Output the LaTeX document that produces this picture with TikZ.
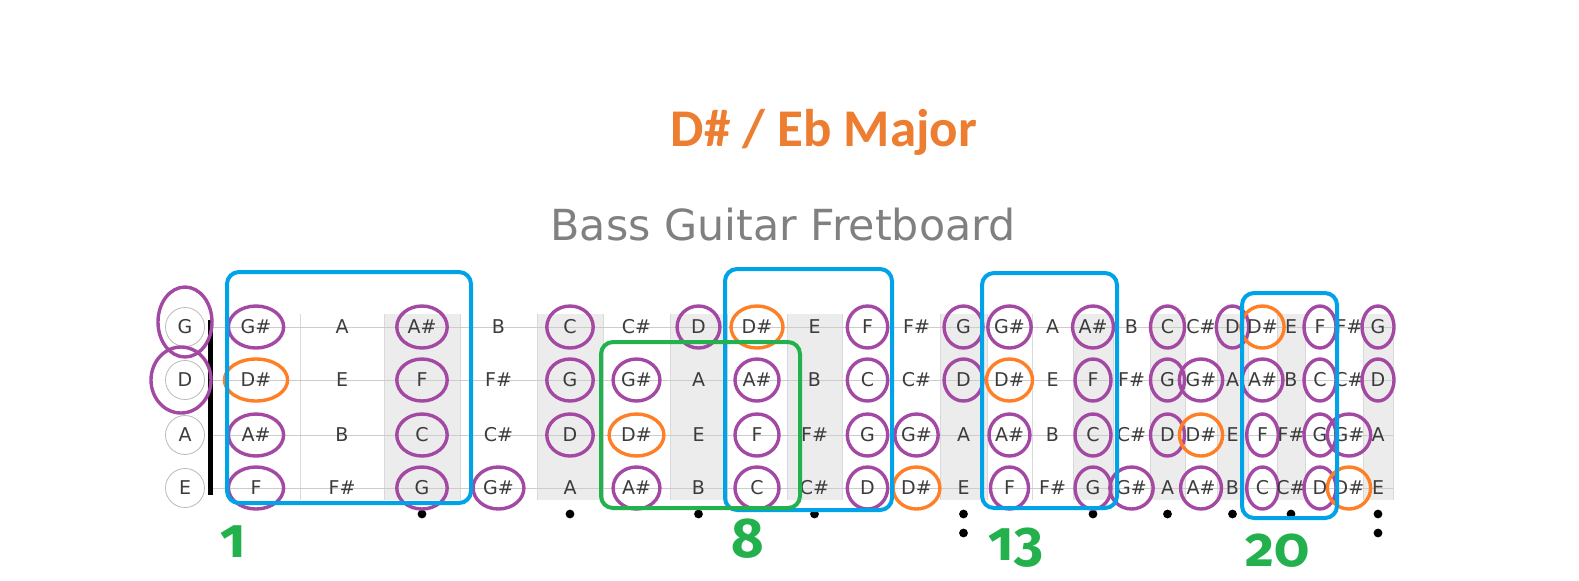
\documentclass[tikz,border=0pt]{standalone}
\usepackage{fontspec}
\usepackage{tikz}
\usetikzlibrary{shapes.geometric}
\setmainfont{DejaVu Sans}
\newfontfamily\headfont{Carlito}
\newfontfamily\numfont[Numbers=OldStyle]{Fira Sans}
\definecolor{keyPurple}{RGB}{163,73,164}
\definecolor{rootOrange}{RGB}{255,127,39}
\definecolor{boxBlue}{RGB}{0,162,232}
\definecolor{boxGreen}{RGB}{34,177,76}
\definecolor{titleOrange}{RGB}{237,125,49}
\definecolor{noteGray}{RGB}{60,60,60}
\definecolor{boardGray}{RGB}{236,236,236}

% note name and ring colour from the pitch class (C = 0)
\newcommand\notename[1]{\ifcase#1 C\or C\#\or D\or D\#\or E\or F\or F\#\or G\or G\#\or A\or A\#\or B\fi}
\newcommand\ringcolor[1]{\ifcase#1 keyPurple\or none\or keyPurple\or rootOrange\or none\or keyPurple\or none\or keyPurple\or keyPurple\or none\or keyPurple\or none\fi}

\begin{document}
\begin{tikzpicture}[x=0.5pt, y=-0.5pt,
  every node/.style={font=\fontsize{9.5}{10}\selectfont, text=noteGray},
  note/.style={ellipse, inner sep=0pt, minimum height=21pt, line width=1.7pt},
  openstring/.style={circle, draw=gray!55, minimum size=19.5pt, inner sep=0pt},
  openring/.style={ellipse, draw=keyPurple, line width=1.7pt, inner sep=0pt},
  boxframe/.style={rounded corners=6pt, line width=2pt},
  fretnum/.style={font=\numfont\bfseries\fontsize{28}{30}\selectfont, text=boxGreen, anchor=base}]
  \useasboundingbox (0,0) rectangle (1579,580);
  % ---------------- TITLES ----------------
  \node[font=\headfont\bfseries\fontsize{26.5}{30}\selectfont, text=titleOrange, anchor=base] (title) at (824,146) {D\# / Eb Major};
  \node[font=\fontsize{21.4}{24}\selectfont, text=gray, anchor=base] (subtitle) at (783,240) {Bass Guitar Fretboard};
  % ---------------- BOARD ----------------
  \foreach \xa/\xb in {384/460, 537/603, 670/727, 787/842, 940/987, 1073/1113, 1150/1185, 1217/1248, 1277/1305, 1363/1393}
    \fill[boardGray] (\xa,314) rectangle (\xb,500);
  \foreach \xb in {300,384,460,537,603,670,727,787,842,893,940,987,1032,1073,1113,1150,1185,1217,1248,1277,1305,1335,1363,1393}
    \draw[gray!30] (\xb,314) -- (\xb,500);
  \foreach \y in {327,380,435,488}
    \draw[gray!40] (212,\y) -- (1393,\y);
  \draw[line width=2.5pt] (210,320) -- (210,495);
  \foreach \xc in {422,570,698.5,814.5,963.5,1093,1167.5,1232.5,1291,1378}
    \fill (\xc,514) circle (2.2pt);
  \fill (963.5,533) circle (2.2pt);
  \fill (1378,533) circle (2.2pt);
  % ---------------- NOTES ----------------
  \foreach \s/\o/\y in {G/7/327, D/2/380, A/9/435, E/4/488} {
    \node[openstring] (open\s) at (185,\y) {\s};
    \foreach \f/\xa/\xb in {1/212/300, 2/300/384, 3/384/460, 4/460/537, 5/537/603, 6/603/670,
        7/670/727, 8/727/787, 9/787/842, 10/842/893, 11/893/940, 12/940/987,
        13/987/1032, 14/1032/1073, 15/1073/1113, 16/1113/1150, 17/1150/1185, 18/1185/1217,
        19/1217/1248, 20/1248/1277, 21/1277/1305, 22/1305/1335, 23/1335/1363, 24/1363/1393} {
      \pgfmathtruncatemacro\nn{mod(\o+\f,12)}
      \pgfmathsetmacro\ew{(0.4*(\xb-\xa)+(\nn==3?28:20))/2}
      \edef\rc{\ringcolor{\nn}}
      \node[note, draw=\rc, minimum width={\ew pt}] (\s\f) at ({(\xa+\xb)/2},\y) {\notename{\nn}};
    }
  }
  \node[openring, minimum width=27pt, minimum height=35pt] (ringG) at (185,322) {};
  \node[openring, minimum width=30pt, minimum height=33pt] (ringD) at (181,380) {};
  % ---------------- PATTERNS ----------------
  \draw[boxframe, boxBlue] (227,272) rectangle (471,503);
  \draw[boxframe, boxBlue] (725,269) rectangle (892,510);
  \draw[boxframe, boxBlue] (982,273) rectangle (1117,508);
  \draw[boxframe, boxBlue] (1242,293) rectangle (1337,518);
  \draw[boxframe, boxGreen] (601,342) rectangle (800,508);
  \node[fretnum] (pos1) at (233,557) {1};
  \node[fretnum] (pos8) at (748,557) {8};
  \node[fretnum] (pos13) at (1016,560) {13};
  \node[fretnum] (pos20) at (1278,566) {20};
\end{tikzpicture}
\end{document}
